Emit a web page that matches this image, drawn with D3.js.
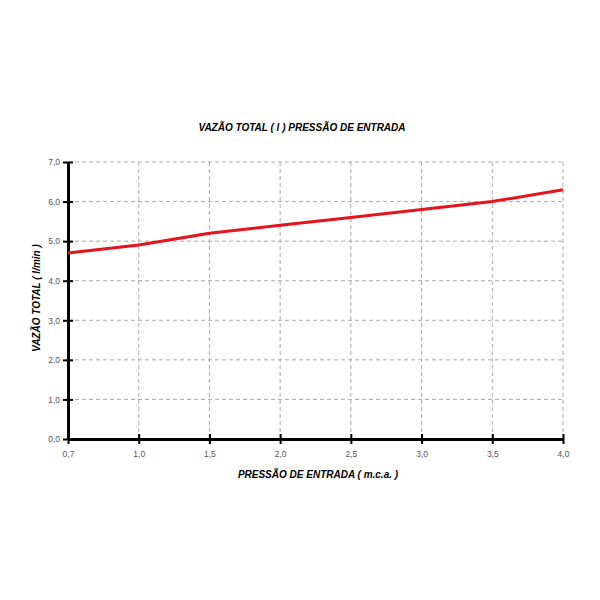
<!DOCTYPE html>
<html><head><meta charset="utf-8">
<script src="https://cdn.jsdelivr.net/npm/d3@7"></script>
<style>body{margin:0;background:#fff}</style>
</head><body>
<script>
const categories = ["0,7","1,0","1,5","2,0","2,5","3,0","3,5","4,0"];
const values = [4.7, 4.9, 5.2, 5.4, 5.6, 5.8, 6.0, 6.3];
const yTicks = [0,1,2,3,4,5,6,7];
const title = "VAZÃO TOTAL ( l ) PRESSÃO DE ENTRADA";
const xTitle = "PRESSÃO DE ENTRADA ( m.c.a. )";
const yTitle = "VAZÃO TOTAL ( l/min )";

const W=600,H=600, L=68,R=563,T=162,B=439;
const svg=d3.select("body").append("svg").attr("width",W).attr("height",H);
const x=d3.scalePoint().domain(categories).range([L,R]);
const y=d3.scaleLinear().domain([0,7]).range([B,T]);
const font="Liberation Sans, Arial, sans-serif";

// grid
svg.append("g").selectAll("line").data(yTicks.filter(d=>d>0)).join("line")
 .attr("x1",L).attr("x2",R).attr("y1",d=>y(d)).attr("y2",d=>y(d))
 .attr("stroke","#aaa").attr("stroke-width",1).attr("stroke-dasharray","4,3");
svg.append("g").selectAll("line").data(categories.slice(1)).join("line")
 .attr("x1",d=>x(d)).attr("x2",d=>x(d)).attr("y1",T).attr("y2",B)
 .attr("stroke","#aaa").attr("stroke-width",1).attr("stroke-dasharray","4,3");

// axes
const xa=svg.append("g").attr("transform",`translate(0,${B})`)
 .call(d3.axisBottom(x).tickSize(0).tickPadding(12));
xa.select(".domain").attr("stroke","#000").attr("stroke-width",3);
xa.selectAll(".tick").append("line").attr("y1",-5).attr("y2",5).attr("stroke","#000").attr("stroke-width",2);
xa.selectAll("text").attr("fill","#555").attr("font-size",8.5).attr("font-family",font);

const ya=svg.append("g").attr("transform",`translate(${L},0)`)
 .call(d3.axisLeft(y).tickValues(yTicks).tickSize(0).tickPadding(8).tickFormat(d=>d3.format(".1f")(d).replace(".",",")));
ya.select(".domain").attr("stroke","#000").attr("stroke-width",3);
ya.selectAll(".tick").append("line").attr("x1",-5).attr("x2",5).attr("stroke","#000").attr("stroke-width",2);
ya.selectAll("text").attr("fill","#555").attr("font-size",8.5).attr("font-family",font);

// line
svg.append("path").datum(values)
 .attr("d",d3.line().x((d,i)=>x(categories[i])).y(d=>y(d)))
 .attr("fill","none").attr("stroke","#e8121b").attr("stroke-width",3);

// titles
svg.append("text").attr("x",302).attr("y",131).attr("text-anchor","middle")
 .attr("font-family",font).attr("font-size",10).attr("font-weight","bold").attr("font-style","italic").text(title);
svg.append("text").attr("x",318).attr("y",478).attr("text-anchor","middle")
 .attr("font-family",font).attr("font-size",10).attr("font-weight","bold").attr("font-style","italic").text(xTitle);
svg.append("text").attr("transform","translate(40,298) rotate(-90)").attr("text-anchor","middle")
 .attr("font-family",font).attr("font-size",10).attr("font-weight","bold").attr("font-style","italic").text(yTitle);
</script>
</body></html>
